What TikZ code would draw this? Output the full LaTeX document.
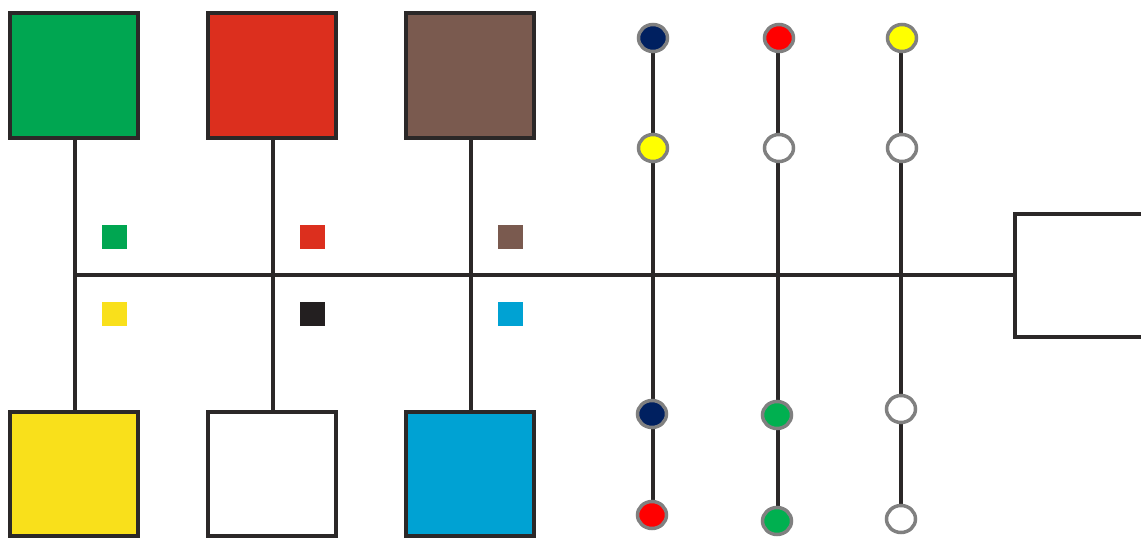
\documentclass[tikz,border=0pt]{standalone}
\usetikzlibrary{shapes.geometric}
\definecolor{cgreen}{HTML}{00A651}
\definecolor{cred}{HTML}{DC2F1E}
\definecolor{cbrown}{HTML}{7A5A4F}
\definecolor{cyellow}{HTML}{F9E01B}
\definecolor{ccyan}{HTML}{00A2D3}
\definecolor{cblack}{HTML}{231F20}
\definecolor{cline}{HTML}{2B2828}
\definecolor{dnavy}{HTML}{002060}
\definecolor{dred}{HTML}{FF0000}
\definecolor{dyellow}{HTML}{FFFF00}
\definecolor{dgreen}{HTML}{00B050}
\definecolor{dgray}{HTML}{808080}
\tikzset{
  bigbox/.style={draw=cline, line width=4pt, minimum width=128pt, minimum height=125pt, inner sep=0pt, outer sep=0pt},
  smallsq/.style={minimum width=25pt, minimum height=24pt, inner sep=0pt, outer sep=0pt},
  dot/.style={ellipse, draw=dgray, line width=3.5pt, minimum width=29pt, minimum height=27pt, inner sep=0pt, outer sep=0pt},
  wire/.style={draw=cline, line width=4pt},
  thinwire/.style={draw=cline, line width=4pt}
}
\begin{document}
\begin{tikzpicture}[x=1pt, y=-1pt]
\useasboundingbox (0,0) rectangle (1141,538);
\clip (0,0) rectangle (1141,538);
% hub coordinates on the main line
\coordinate (h1) at (75,275);
\coordinate (h2) at (273,275);
\coordinate (h3) at (471,275);
% right box
\node[bigbox, fill=white, minimum width=140pt, minimum height=123pt, anchor=west] (rb) at (1015,275) {};
% main line
\draw[wire] (h1) -- (rb.west);
% top boxes
\node[bigbox, fill=cgreen] (tg) at (74,75.5) {};
\node[bigbox, fill=cred] (tr) at (272,75.5) {};
\node[bigbox, fill=cbrown] (tb) at (470,75.5) {};
% bottom boxes
\node[bigbox, fill=cyellow, minimum height=124pt] (by) at (74,474) {};
\node[bigbox, fill=white, minimum height=124pt] (bw) at (272,474) {};
\node[bigbox, fill=ccyan, minimum height=124pt] (bc) at (470,474) {};
% verticals
\draw[wire] (tg.south -| h1) -- (by.north -| h1);
\draw[wire] (tr.south -| h2) -- (bw.north -| h2);
\draw[wire] (tb.south -| h3) -- (bc.north -| h3);
% small squares
\node[smallsq, fill=cgreen] (sg) at (114.5,237) {};
\node[smallsq, fill=cred] (sr) at (312.5,237) {};
\node[smallsq, fill=cbrown] (sb) at (510.5,237) {};
\node[smallsq, fill=cyellow] (sy) at (114.5,314) {};
\node[smallsq, fill=cblack] (sk) at (312.5,314) {};
\node[smallsq, fill=ccyan] (sc) at (510.5,314) {};
% column anchor coordinates
\coordinate (a1) at (653,38);
\coordinate (a4) at (653,515);
\coordinate (b1) at (778,38);
\coordinate (b4) at (778,521);
\coordinate (d1) at (901,38);
\coordinate (d4) at (901,519);
% column wires (behind dots)
\draw[thinwire] (a1) -- (a4);
\draw[thinwire] (b1) -- (b4);
\draw[thinwire] (d1) -- (d4);
% dots column 1
\node[dot, fill=dnavy] (p1) at (a1) {};
\node[dot, fill=dyellow] (p2) at (653,148) {};
\node[dot, fill=dnavy] (p3) at (652,414) {};
\node[dot, fill=dred] (p4) at (652,515) {};
% dots column 2
\node[dot, fill=dred] (q1) at (779,38) {};
\node[dot, fill=white] (q2) at (779,148) {};
\node[dot, fill=dgreen] (q3) at (777,415) {};
\node[dot, fill=dgreen] (q4) at (777,521) {};
% dots column 3
\node[dot, fill=dyellow] (r1) at (902,38) {};
\node[dot, fill=white] (r2) at (902,148) {};
\node[dot, fill=white] (r3) at (901,409) {};
\node[dot, fill=white] (r4) at (901,519) {};
\end{tikzpicture}
\end{document}
